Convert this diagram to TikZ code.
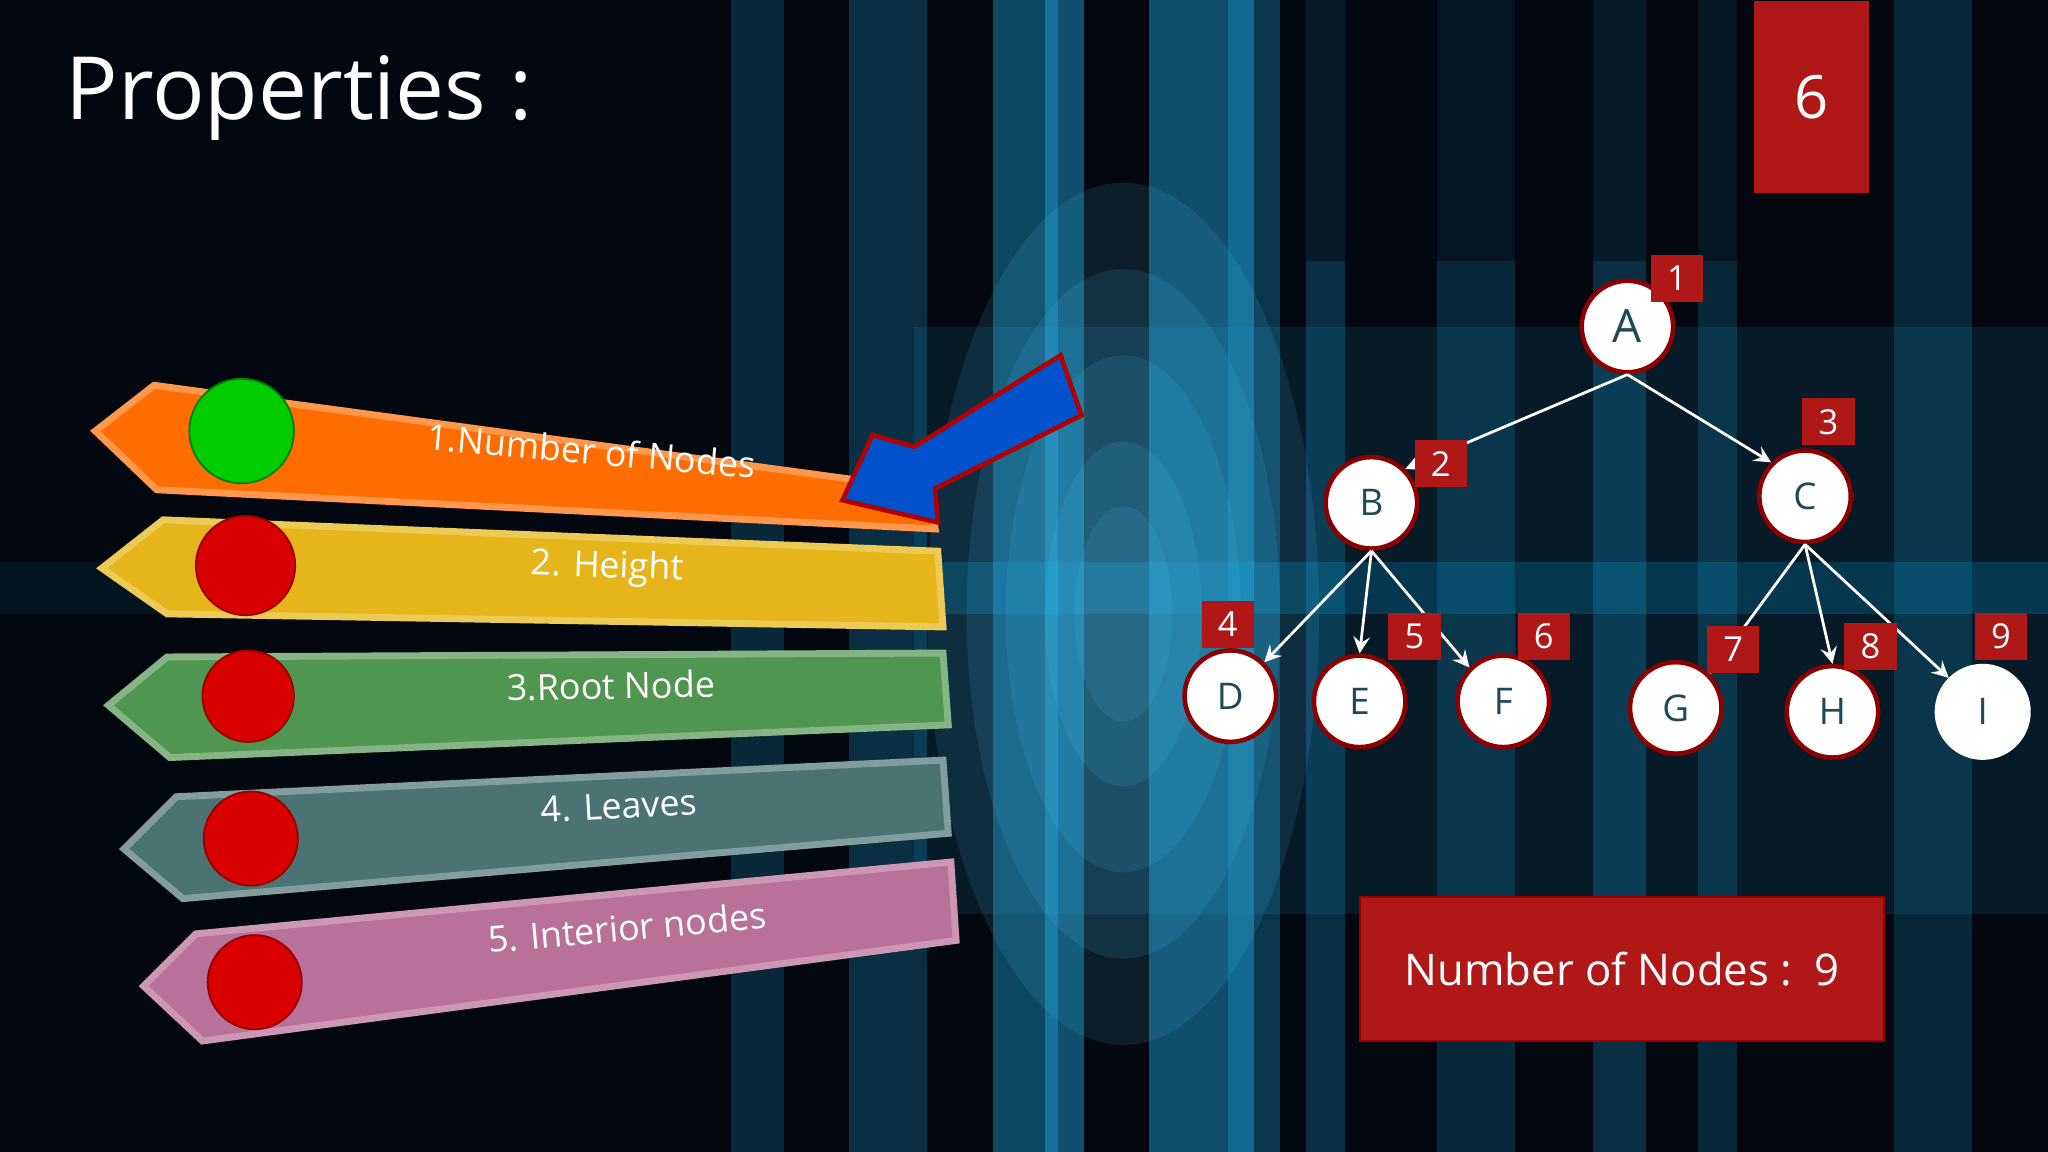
\documentclass[tikz,border=0pt]{standalone}
\usepackage{fontspec}
\setmainfont{Open Sans}
\usetikzlibrary{shapes.geometric}
\definecolor{bg}{HTML}{03070F}
\definecolor{glow}{HTML}{1FA8E0}
\definecolor{tag}{HTML}{B01818}
\definecolor{nodetxt}{HTML}{1E4A55}
\tikzset{
 banner/.style={draw=#1!70!white, line width=1.5pt, fill=#1},
 dot/.style={circle, fill=red!85!black, draw=red!60!black, minimum size=#1},
 blabel/.style={text=white, font=\fontsize{7.8}{9}\selectfont},
 tnode/.style={circle, fill=white, draw=red!55!black, line width=1pt, minimum size=0.7cm, inner sep=0pt, text=nodetxt, font=\fontsize{8}{10}\selectfont},
 ttag/.style={fill=tag, minimum width=0.4cm, minimum height=0.36cm, inner sep=0pt, text=white, font=\fontsize{7.5}{9}\selectfont},
 tedge/.style={draw=white, line width=0.6pt, -stealth},
}
\begin{document}
\begin{tikzpicture}[x=0.01cm,y=-0.01cm]
\useasboundingbox (0,0) rectangle (1568,882);
\fill[bg] (0,0) rectangle (1568,882);
% background glow
\foreach \x/\w/\o in {560/40/0.2,650/60/0.25,760/50/0.4,800/30/0.45,880/80/0.45,940/40/0.3,1000/30/0.25,1100/60/0.2,1220/40/0.25,1300/30/0.2,1450/60/0.2}
  \fill[glow, opacity=\o] (\x,0) rectangle ++(\w,882);
\fill[cyan, opacity=0.2] (0,430) rectangle (1568,470);
\fill[glow, opacity=0.12] (700,250) rectangle (1568,700);
\foreach \r in {1,0.8,0.6,0.4,0.25}
  \fill[cyan!70!white, opacity=0.12] (860,470) ellipse ({150*\r} and {330*\r});
\fill[bg, opacity=0.6] (0,0) rectangle (420,882);
\fill[bg, opacity=0.5] (1000,0) rectangle (1340,200);
% title
\node[anchor=west, text=white, font=\fontsize{19}{22}\selectfont] (title) at (38,75) {Properties :};
% slide number
\node[fill=tag, minimum width=0.88cm, minimum height=1.47cm, anchor=north west, text=white, font=\fontsize{13}{15}\selectfont] (num) at (1342,0) {6};
% banners
\path[banner=orange!85!red] (73,330) -- (118,295) -- (712,375) -- (716,405) -- (120,375) -- cycle;
\path[banner=yellow!55!orange!90!black] (78,435) -- (125,398) -- (718,422) -- (722,480) -- (128,470) -- cycle;
\path[banner=green!30!gray!90!black] (83,540) -- (128,503) -- (722,500) -- (726,555) -- (130,580) -- cycle;
\path[banner=teal!35!gray!90!black] (95,650) -- (135,610) -- (722,582) -- (726,638) -- (140,688) -- cycle;
\path[banner=magenta!40!gray] (110,755) -- (150,715) -- (728,660) -- (732,720) -- (155,797) -- cycle;
\node[dot=0.8cm, fill=green!80!black, draw=green!50!black] (d1) at (185,330) {};
\node[dot=0.76cm] (d2) at (188,433) {};
\node[dot=0.7cm] (d3) at (190,533) {};
\node[dot=0.72cm] (d4) at (192,642) {};
\node[dot=0.72cm] (d5) at (195,752) {};
\node[blabel, rotate=-5] (l1) at (453,345) {1.Number of Nodes};
\node[blabel, rotate=-2] (l2) at (465,435) {2. Height};
\node[blabel, rotate=1] (l3) at (468,525) {3.Root Node};
\node[blabel, rotate=3] (l4) at (474,617) {4. Leaves};
\node[blabel, rotate=5] (l5) at (480,710) {5. Interior nodes};
% blue arrow
\fill[blue!60!cyan!80!black, draw=red!70!black, line width=1pt] (645,383) -- (668,333) -- (700,342) -- (812,272) -- (828,318) -- (716,374) -- (718,400) -- cycle;
% tree
\node[tnode, font=\fontsize{10}{12}\selectfont] (A) at (1246,250) {A};
\node[tnode] (B) at (1050,385) {B};
\node[tnode] (C) at (1382,380) {C};
\node[tnode] (D) at (942,533) {D};
\node[tnode] (E) at (1041,537) {E};
\node[tnode] (F) at (1151,537) {F};
\node[tnode] (G) at (1283,542) {G};
\node[tnode] (H) at (1403,545) {H};
\node[tnode, draw=white] (I) at (1518,545) {I};
\draw[tedge] (A.south) -- (B.north east);
\draw[tedge] (A.south) -- (C.north west);
\draw[tedge] (B.south) -- (D.north east);
\draw[tedge] (B.south) -- (E.north);
\draw[tedge] (B.south) -- (F.north west);
\draw[tedge] (C.south) -- (G.north east);
\draw[tedge] (C.south) -- (H.north);
\draw[tedge] (C.south) -- (I.north west);
\foreach \n/\x/\y in {1/1284/213,2/1103/355,3/1400/323,4/940/478,5/1083/487,6/1182/487,7/1327/497,8/1432/495,9/1532/487}
  \node[ttag] (t\n) at (\x,\y) {\n};
% result box
\node[fill=tag, draw=red!60!black, minimum width=4.01cm, minimum height=1.1cm, text=white, font=\fontsize{9.5}{11}\selectfont] (res) at (1242,742) {Number of Nodes :\ \ 9};
\end{tikzpicture}
\end{document}
